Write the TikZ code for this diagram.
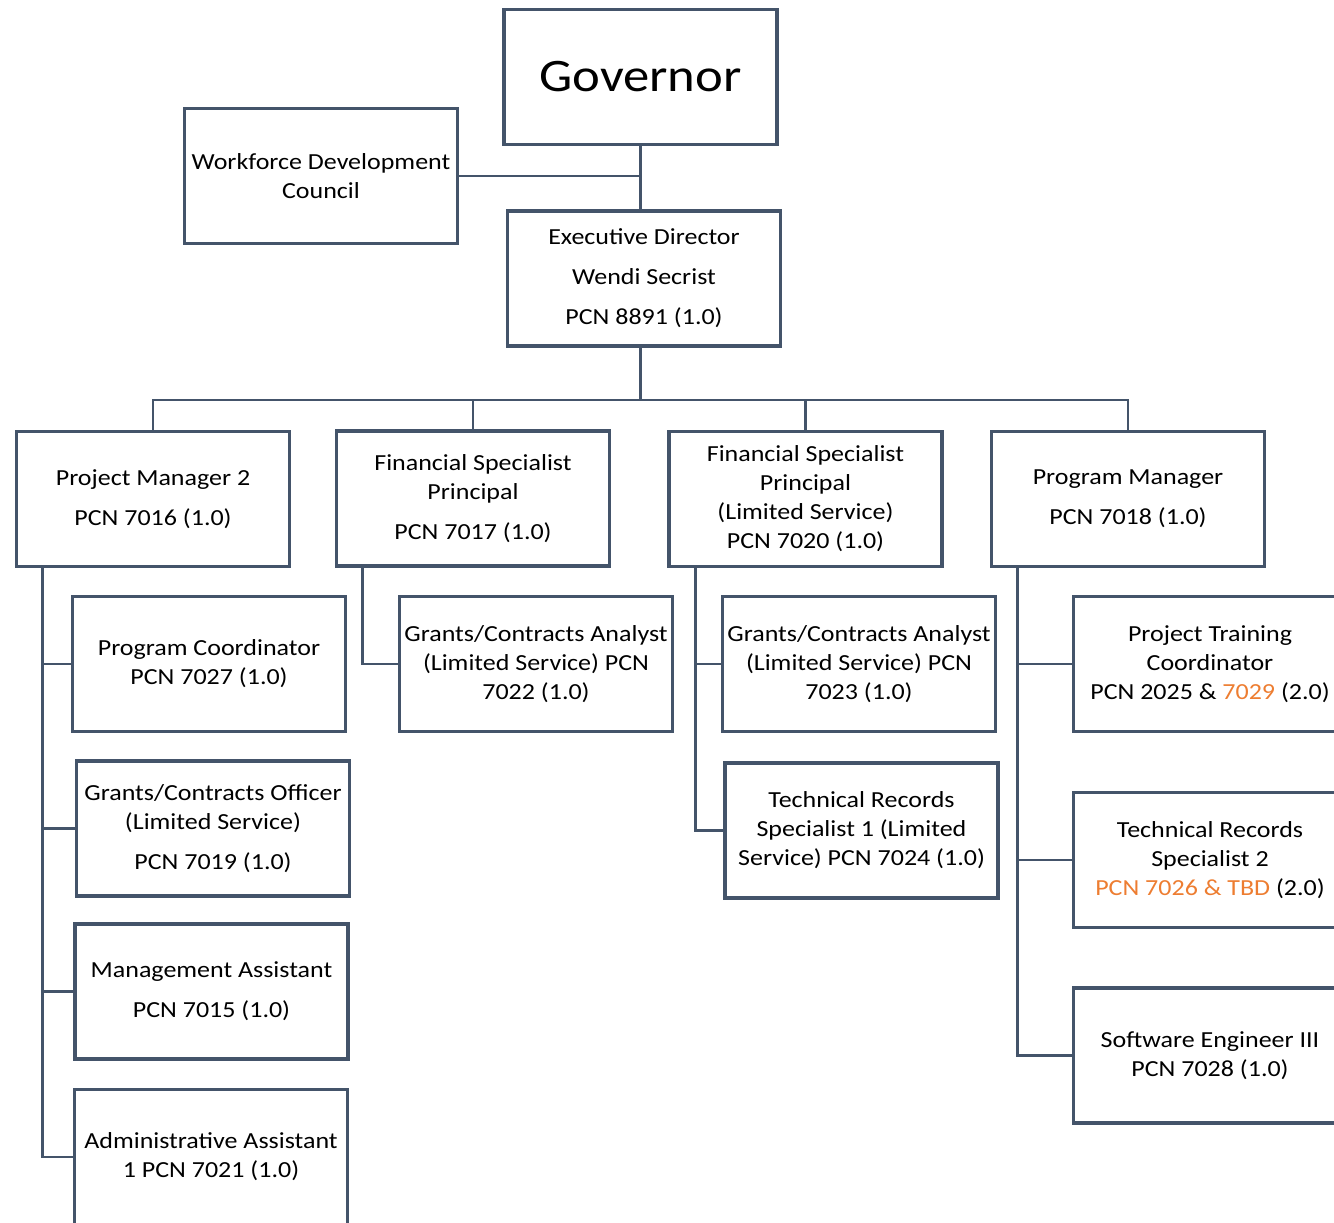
\documentclass[tikz,border=0pt]{standalone}
\usepackage{fontspec}
\setmainfont{Carlito}[FakeStretch=1.13]
\usepackage{tikz}
\usetikzlibrary{positioning}
\definecolor{slate}{HTML}{44546A}
\definecolor{accent}{HTML}{ED7D31}

\begin{document}
\begin{tikzpicture}[x=0.5pt, y=-0.5pt,
    font=\fontsize{11.5pt}{14.5pt}\selectfont]
    % Setup the styles for the boxes and the lines
    \tikzset{box style/.style={
        draw=slate,
        line width=1.8pt,
        minimum width=136.5pt,
        minimum height=67.5pt,
        inner sep=1pt,
        align=center},
      link/.style={
        draw=slate,
        line width=1.3pt}}
    \useasboundingbox (0, 0) rectangle (1334, 1222);

    % Draw the top of the chart
    \node[box style, font=\fontsize{23.3pt}{28pt}\selectfont]
                           at (640.5, 77)   (gov)  {Governor};
    \node[box style] at (321, 176)    (wdc)  {Workforce Development\\Council};
    \node[box style] at (644, 278.5)  (exec) {Executive Director\\[5.5pt]Wendi Secrist\\[5.5pt]PCN 8891 (1.0)};

    % Draw the second row
    \node[box style] at (153, 499)    (pm2)     {Project Manager 2\\[5.5pt]PCN 7016 (1.0)};
    \node[box style] at (473, 498.5)  (fsp1)    {Financial Specialist\\Principal\\[5.5pt]PCN 7017 (1.0)};
    \node[box style] at (805.5, 499)  (fsp2)    {Financial Specialist\\Principal\\(Limited Service)\\PCN 7020 (1.0)};
    \node[box style] at (1128, 499)   (progmgr) {Program Manager\\[5.5pt]PCN 7018 (1.0)};

    % Draw the staff boxes
    \node[box style] at (209, 664)    (pc)   {Program Coordinator\\PCN 7027 (1.0)};
    \node[box style] at (213, 828.5)  (gco)  {Grants/Contracts Officer\\(Limited Service)\\[5.5pt]PCN 7019 (1.0)};
    \node[box style] at (211.5, 991.5) (ma)  {Management Assistant\\[5.5pt]PCN 7015 (1.0)};
    \node[box style] at (211, 1157)   (aa)   {Administrative Assistant\\1 PCN 7021 (1.0)};
    \node[box style] at (536, 664)    (gca1) {Grants/Contracts Analyst\\(Limited Service) PCN\\7022 (1.0)};
    \node[box style] at (859, 664)    (gca2) {Grants/Contracts Analyst\\(Limited Service) PCN\\7023 (1.0)};
    \node[box style] at (861.5, 830.5) (tr1) {Technical Records\\Specialist 1 (Limited\\Service) PCN 7024 (1.0)};
    \node[box style] at (1210, 664)   (ptc)  {Project Training\\Coordinator\\PCN 2025 \& \textcolor{accent}{7029} (2.0)};
    \node[box style] at (1210, 860)   (tr2)  {Technical Records\\Specialist 2\\\textcolor{accent}{PCN 7026 \& TBD} (2.0)};
    \node[box style] at (1210, 1055.5) (se)  {Software Engineer III\\PCN 7028 (1.0)};

    % Connect the boxes
    \coordinate (bus) at (640.5, 400);
    \draw[link] (gov.south) -- (gov.south |- exec.north);
    \draw[link] (wdc.east) -- (wdc.east -| gov.south);
    \draw[link] (exec.south -| gov.south) -- (bus);
    \foreach \n in {pm2, fsp1, fsp2, progmgr}
        \draw[link] (bus) -| (\n.north);

    \foreach \c in {pc, gco, ma, aa}
        \draw[link] ([xshift=14pt]pm2.south west) |- (\c.west);
    \draw[link] ([xshift=14pt]fsp1.south west) |- (gca1.west);
    \foreach \c in {gca2, tr1}
        \draw[link] ([xshift=14pt]fsp2.south west) |- (\c.west);
    \foreach \c in {ptc, tr2, se}
        \draw[link] ([xshift=14pt]progmgr.south west) |- (\c.west);
\end{tikzpicture}
\end{document}
